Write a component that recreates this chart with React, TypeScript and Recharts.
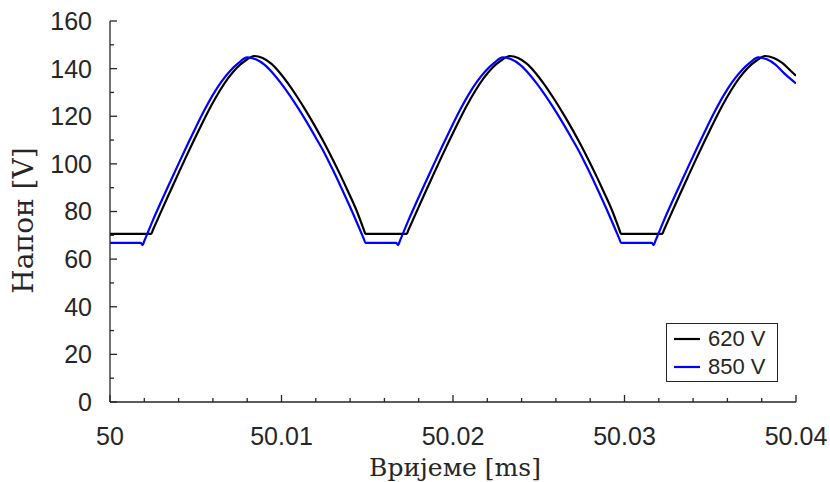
import { Legend, Line, LineChart, XAxis, YAxis } from "recharts";

// time in ms, voltage in V
const time620 = [
  50, 50.0024, 50.0025, 50.0029, 50.0034, 50.0039, 50.0044, 50.0049, 50.0054, 50.0059, 50.0064, 50.0069,
  50.0074, 50.0079, 50.0084, 50.0089, 50.0094, 50.0099, 50.0104, 50.0109, 50.0114, 50.0119, 50.0124, 50.0129,
  50.0134, 50.0139, 50.0144, 50.0148, 50.0149,
  50.0173, 50.0174, 50.0178, 50.0183, 50.0188, 50.0193, 50.0198, 50.0203, 50.0208, 50.0213, 50.0218, 50.0223,
  50.0228, 50.0233, 50.0238, 50.0243, 50.0248, 50.0253, 50.0258, 50.0263, 50.0268, 50.0273, 50.0278, 50.0283,
  50.0288, 50.0293, 50.0297, 50.0298,
  50.0322, 50.0323, 50.0327, 50.0332, 50.0337, 50.0342, 50.0347, 50.0352, 50.0357, 50.0362, 50.0367, 50.0372,
  50.0377, 50.0382, 50.0387, 50.0392, 50.0397, 50.04,
];
const volts620 = [
  70.6, 70.6, 72.2, 78.7, 86.7, 94.6, 102.4, 110, 117.4, 124.4, 130.7, 136.1,
  140.4, 143.4, 145.3, 144.5, 142.1, 138.3, 133.6, 128.3, 122.6, 116.5, 110, 103.1,
  95.8, 88.1, 80, 72.4, 70.6,
  70.6, 72.2, 78.7, 86.7, 94.6, 102.4, 110, 117.4, 124.4, 130.7, 136.1, 140.4,
  143.4, 145.3, 144.5, 142.1, 138.3, 133.6, 128.3, 122.6, 116.5, 110, 103.1, 95.8,
  88.1, 80, 72.4, 70.6,
  70.6, 72.2, 78.7, 86.7, 94.6, 102.4, 110, 117.4, 124.4, 130.7, 136.1, 140.4,
  143.4, 145.3, 144.5, 142.4, 139, 137,
];

const time850 = [
  50, 50.0018, 50.0019, 50.002, 50.0025, 50.003, 50.0035, 50.004, 50.0045, 50.005, 50.0055, 50.006,
  50.0065, 50.007, 50.0075, 50.008, 50.0085, 50.009, 50.0095, 50.01, 50.0105, 50.011, 50.0115, 50.012,
  50.0125, 50.013, 50.0135, 50.014, 50.0145, 50.0148, 50.0149,
  50.0167, 50.0168, 50.0169, 50.0174, 50.0179, 50.0184, 50.0189, 50.0194, 50.0199, 50.0204, 50.0209, 50.0214,
  50.0219, 50.0224, 50.0229, 50.0234, 50.0239, 50.0244, 50.0249, 50.0254, 50.0259, 50.0264, 50.0269, 50.0274,
  50.0279, 50.0284, 50.0289, 50.0294, 50.0297, 50.0298,
  50.0316, 50.0317, 50.0318, 50.0323, 50.0328, 50.0333, 50.0338, 50.0343, 50.0348, 50.0353, 50.0358, 50.0363,
  50.0368, 50.0373, 50.0378, 50.0383, 50.0388, 50.0393, 50.04,
];
const volts850 = [
  66.8, 66.8, 65.9, 67.6, 76.3, 84.4, 92.3, 100.1, 107.8, 115.3, 122.5, 129,
  134.5, 139, 142.4, 144.7, 143.9, 141.7, 138.1, 133.6, 128.6, 123.1, 117.2, 111,
  104.6, 97.4, 89.8, 81.9, 73.6, 68.5, 66.8,
  66.8, 65.9, 67.6, 76.3, 84.4, 92.3, 100.1, 107.8, 115.3, 122.5, 129, 134.5,
  139, 142.4, 144.7, 143.9, 141.7, 138.1, 133.6, 128.6, 123.1, 117.2, 111, 104.6,
  97.4, 89.8, 81.9, 73.6, 68.5, 66.8,
  66.8, 65.9, 67.6, 76.3, 84.4, 92.3, 100.1, 107.8, 115.3, 122.5, 129, 134.5,
  139, 142.4, 144.7, 143.9, 141.7, 138.1, 133.8,
];

const xMajorTicks = [50, 50.01, 50.02, 50.03, 50.04];
const xMinorTicks = [
  50.002, 50.004, 50.006, 50.008, 50.012, 50.014, 50.016, 50.018, 50.022, 50.024, 50.026, 50.028,
  50.032, 50.034, 50.036, 50.038,
];
const yMajorTicks = [0, 20, 40, 60, 80, 100, 120, 140, 160];
const yMinorTicks = [10, 30, 50, 70, 90, 110, 130, 150];

const seriesNames = ["620 V", "850 V"];
const seriesColors = ["#000000", "#0000ff"];

const data620 = time620.map((t, i) => ({ t, v: volts620[i] }));
const data850 = time850.map((t, i) => ({ t, v: volts850[i] }));

const allX = [...xMajorTicks, ...xMinorTicks].sort((a, b) => a - b);
const allY = [...yMajorTicks, ...yMinorTicks].sort((a, b) => a - b);

const AXIS = "#262626";
const SANS = "'Liberation Sans', Arial, Helvetica, sans-serif";
const SERIF = "'DejaVu Serif', 'Liberation Serif', serif";
const TICK_FONT = 25;

const isMajor = (value: number, majors: number[]) => majors.some((m) => Math.abs(m - value) < 1e-9);

function makeTick(side: "bottom" | "top" | "left" | "right", majors: number[]) {
  return (props: any) => {
    const { x, y, payload } = props;
    const major = isMajor(payload.value, majors);
    const len = major ? 7 : 4;
    if (side === "bottom") {
      return (
        <g>
          <line x1={x} y1={y} x2={x} y2={y - len} stroke={AXIS} strokeWidth={1.3} />
          {major && (
            <text x={x} y={y + 43} textAnchor="middle" fontFamily={SANS} fontSize={TICK_FONT} fill={AXIS}>
              {payload.value}
            </text>
          )}
        </g>
      );
    }
    if (side === "top") {
      return <line x1={x} y1={y} x2={x} y2={y + len} stroke={AXIS} strokeWidth={1.3} />;
    }
    if (side === "left") {
      return (
        <g>
          <line x1={x} y1={y} x2={x + len} y2={y} stroke={AXIS} strokeWidth={1.3} />
          {major && (
            <text x={x - 18} y={y} dy="0.355em" textAnchor="end" fontFamily={SANS} fontSize={TICK_FONT} fill={AXIS}>
              {payload.value}
            </text>
          )}
        </g>
      );
    }
    return <line x1={x} y1={y} x2={x - len} y2={y} stroke={AXIS} strokeWidth={1.3} />;
  };
}

function LegendBox() {
  return (
    <div
      style={{
        border: `1.3px solid ${AXIS}`,
        background: "#fff",
        width: 112,
        height: 59,
        boxSizing: "border-box",
        paddingTop: 1,
      }}
    >
      {seriesNames.map((name, i) => (
        <div key={name} style={{ display: "flex", alignItems: "center", height: 28 }}>
          <svg width={41} height={28}>
            <line x1={7} y1={14} x2={33} y2={14} stroke={seriesColors[i]} strokeWidth={2.2} />
          </svg>
          <span style={{ fontFamily: SANS, fontSize: 22, color: AXIS, lineHeight: "28px" }}>{name}</span>
        </div>
      ))}
    </div>
  );
}

export default function App() {
  return (
    <div style={{ position: "absolute", left: 0, top: 0, background: "#fff" }}>
      <LineChart width={830} height={482} margin={{ top: 21, right: 34, bottom: 0, left: 0 }}>
        <XAxis
          dataKey="t"
          type="number"
          domain={[50, 50.04]}
          allowDataOverflow
          ticks={allX}
          interval={0}
          tickSize={0}
          tickMargin={0}
          tickLine={false}
          tick={makeTick("bottom", xMajorTicks)}
          axisLine={{ stroke: AXIS, strokeWidth: 1.3 }}
          height={80}
          label={{
            content: (p: any) => (
              <text
                x={p.viewBox.x + p.viewBox.width / 2 + 2}
                y={p.viewBox.y + 74}
                textAnchor="middle"
                fontFamily={SERIF}
                fontSize={25}
                fill={AXIS}
              >
                Вријеме [ms]
              </text>
            ),
          }}
        />
        <XAxis
          xAxisId="top"
          orientation="top"
          type="number"
          domain={[50, 50.04]}
          allowDataOverflow
          ticks={allX}
          interval={0}
          tickSize={0}
          tickMargin={0}
          tickLine={false}
          tick={makeTick("top", xMajorTicks)}
          axisLine={{ stroke: AXIS, strokeWidth: 1.3 }}
          height={0}
        />
        <YAxis
          type="number"
          domain={[0, 160]}
          allowDataOverflow
          ticks={allY}
          interval={0}
          tickSize={0}
          tickMargin={0}
          tickLine={false}
          tick={makeTick("left", yMajorTicks)}
          axisLine={{ stroke: AXIS, strokeWidth: 1.3 }}
          width={110}
          label={{
            content: (p: any) => {
              const cx = 33;
              const cy = p.viewBox.y + p.viewBox.height / 2 + 9;
              return (
                <text
                  x={cx}
                  y={cy}
                  transform={`rotate(-90, ${cx}, ${cy})`}
                  textAnchor="middle"
                  fontFamily={SERIF}
                  fontSize={28}
                  fill={AXIS}
                >
                  Напон [V]
                </text>
              );
            },
          }}
        />
        <YAxis
          yAxisId="right"
          orientation="right"
          type="number"
          domain={[0, 160]}
          allowDataOverflow
          ticks={allY}
          interval={0}
          tickSize={0}
          tickMargin={0}
          tickLine={false}
          tick={makeTick("right", yMajorTicks)}
          axisLine={{ stroke: AXIS, strokeWidth: 1.3 }}
          width={0}
        />
        <Line
          data={data620}
          dataKey="v"
          name={seriesNames[0]}
          type="monotone"
          stroke={seriesColors[0]}
          strokeWidth={2.2}
          dot={false}
          activeDot={false}
          isAnimationActive={false}
        />
        <Line
          data={data850}
          dataKey="v"
          name={seriesNames[1]}
          type="monotone"
          stroke={seriesColors[1]}
          strokeWidth={2.2}
          dot={false}
          activeDot={false}
          isAnimationActive={false}
        />
        <Legend
          layout="vertical"
          align="center"
          verticalAlign="middle"
          content={() => <LegendBox />}
          wrapperStyle={{ left: 666, top: 323, right: "auto", bottom: "auto", width: "auto", height: "auto" }}
        />
      </LineChart>
    </div>
  );
}
